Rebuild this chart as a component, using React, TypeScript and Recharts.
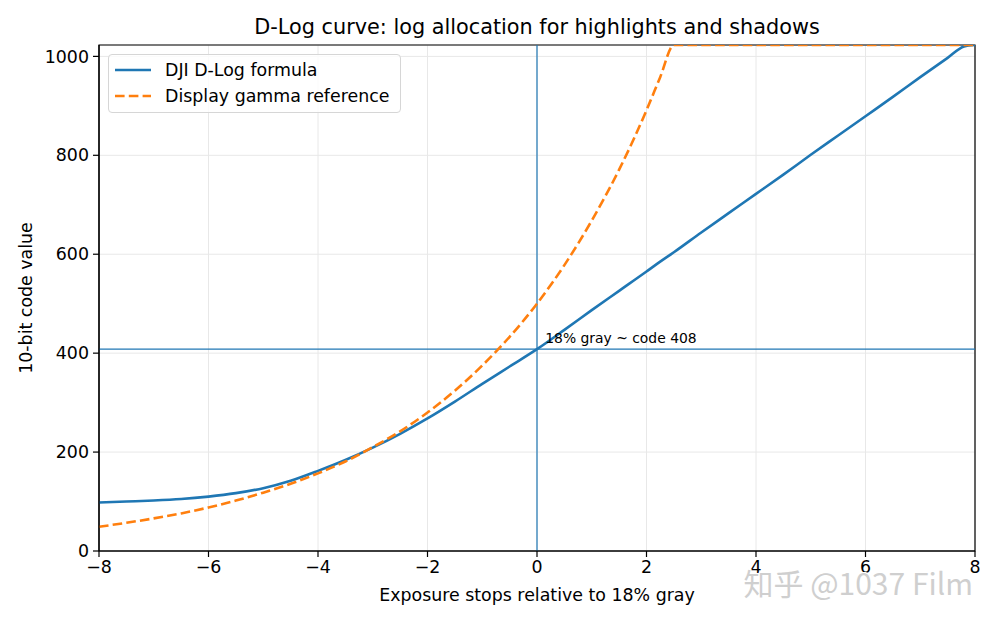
import React from 'react';
import {
  LineChart,
  Line,
  XAxis,
  YAxis,
  CartesianGrid,
  ReferenceLine,
  ReferenceArea,
  ReferenceDot,
} from 'recharts';

// exposure stops relative to 18% gray
const stops = [
  -8, -7.5, -7, -6.5, -6, -5.5, -5, -4.5, -4, -3.5, -3, -2.5, -2, -1.5, -1, -0.5,
  0, 0.5, 1, 1.5, 2, 2.25, 2.5, 3, 3.5, 4, 4.5, 5, 5.5, 6, 6.5, 7, 7.5, 7.8, 8,
];

// DJI D-Log code values (10-bit)
const dlogValues = [
  98, 100, 102, 105, 110, 117, 127, 142, 162, 184, 209, 237, 268, 302, 338, 373,
  408, 447, 487, 526, 565, 585, 604, 644, 683, 722, 761, 801, 840, 879, 918, 958, 997, 1020, 1023,
];

// display gamma reference, clipped at 1023
const gammaValues = [
  49, 57, 66, 76, 88, 102, 118, 136, 157, 181, 210, 242, 280, 324, 375, 433,
  500, 578, 668, 771, 891, 958, 1023, 1023, 1023, 1023, 1023, 1023, 1023, 1023, 1023, 1023, 1023, 1023, 1023,
];

const xTicks = [-8, -6, -4, -2, 0, 2, 4, 6, 8];
const yTicks = [0, 200, 400, 600, 800, 1000];

const seriesNames = ['DJI D-Log formula', 'Display gamma reference'];

const data = stops.map((s, i) => ({ stop: s, dlog: dlogValues[i], gamma: gammaValues[i] }));

const FONT = '"DejaVu Sans", sans-serif';
const BLUE = '#1f77b4';
const ORANGE = '#ff7f0e';
const DASH = '9.6 4.2';

function LegendBox() {
  return (
    <div
      style={{
        position: 'absolute',
        left: 108,
        top: 54,
        width: 285,
        height: 55,
        border: '1px solid #d6d6d6',
        borderRadius: 4,
        background: 'rgba(255,255,255,0.8)',
        padding: '2px 0 0 6px',
        fontFamily: FONT,
        fontSize: 17.4,
        color: '#000',
        lineHeight: '26px',
      }}
    >
      {seriesNames.map((name, i) => (
        <div key={name} style={{ display: 'flex', alignItems: 'center', height: 26 }}>
          <svg width={36} height={10} style={{ marginRight: 14 }}>
            <line
              x1={0}
              x2={36}
              y1={5}
              y2={5}
              stroke={i === 0 ? BLUE : ORANGE}
              strokeWidth={2.6}
              strokeDasharray={i === 0 ? undefined : DASH}
            />
          </svg>
          <span>{name}</span>
        </div>
      ))}
    </div>
  );
}

function GrayLabel({ viewBox }: any) {
  return (
    <text x={viewBox.x} y={viewBox.y} fontSize={13.9} fontFamily={FONT} fill="#000">
      18% gray ~ code 408
    </text>
  );
}

export default function App() {
  return (
    <div style={{ position: 'absolute', left: 0, top: 0, width: 1000, height: 625, background: '#fff' }}>
      <div
        style={{
          position: 'absolute',
          left: 99,
          width: 876,
          top: 14,
          textAlign: 'center',
          fontFamily: FONT,
          fontSize: 20.8,
          lineHeight: '26px',
          color: '#000',
        }}
      >
        D-Log curve: log allocation for highlights and shadows
      </div>
      <LineChart
        width={1000}
        height={625}
        data={data}
        margin={{ top: 45, right: 25, bottom: 44, left: 0 }}
        style={{ fontFamily: FONT, position: 'absolute', left: 0, top: 0 }}
      >
        <CartesianGrid stroke="#e8e8e8" strokeWidth={1} />
        <XAxis
          dataKey="stop"
          type="number"
          domain={[-8, 8]}
          ticks={xTicks}
          tickFormatter={(v) => (v < 0 ? `\u2212${-v}` : `${v}`)}
          tick={{ fontSize: 17.4, fill: '#000', dy: 2 }}
          tickSize={6}
          tickLine={{ stroke: '#000', strokeWidth: 1.2 }}
          axisLine={{ stroke: '#000', strokeWidth: 1.2 }}
          allowDataOverflow
          label={{ value: 'Exposure stops relative to 18% gray', position: 'bottom', offset: 8, fontSize: 17.4, fill: '#000' }}
        />
        <YAxis
          width={99}
          type="number"
          domain={[0, 1023]}
          ticks={yTicks}
          tick={{ fontSize: 17.4, fill: '#000', dx: -2 }}
          tickSize={6}
          tickLine={{ stroke: '#000', strokeWidth: 1.2 }}
          axisLine={{ stroke: '#000', strokeWidth: 1.2 }}
          allowDataOverflow
          label={{ value: '10-bit code value', angle: -90, position: 'insideLeft', offset: 26, fontSize: 17.4, fill: '#000', style: { textAnchor: 'middle' } }}
        />
        <ReferenceArea x1={-8} x2={8} y1={0} y2={1023} fill="none" stroke="#000" strokeWidth={1.2} />
        <ReferenceLine x={0} stroke={BLUE} strokeWidth={1.2} />
        <ReferenceLine y={408} stroke={BLUE} strokeWidth={1.2} />
        <ReferenceDot x={0.15} y={420} r={0} fill="none" stroke="none" label={<GrayLabel />} />
        <Line
          type="monotone"
          dataKey="dlog"
          name={seriesNames[0]}
          stroke={BLUE}
          strokeWidth={2.6}
          dot={false}
          isAnimationActive={false}
        />
        <Line
          type="monotone"
          dataKey="gamma"
          name={seriesNames[1]}
          stroke={ORANGE}
          strokeWidth={2.6}
          strokeDasharray={DASH}
          dot={false}
          isAnimationActive={false}
        />
      </LineChart>
      <LegendBox />
      <div
        style={{
          position: 'absolute',
          right: 27,
          top: 560,
          fontFamily: '"Noto Sans CJK SC", "Noto Sans", sans-serif',
          fontSize: 30,
          color: '#cfcfcf',
          textShadow: '1px 1px 0 #fff, -1px -1px 0 #fff, 1px -1px 0 #fff, -1px 1px 0 #fff',
        }}
      >
        知乎 @1037 Film
      </div>
    </div>
  );
}
